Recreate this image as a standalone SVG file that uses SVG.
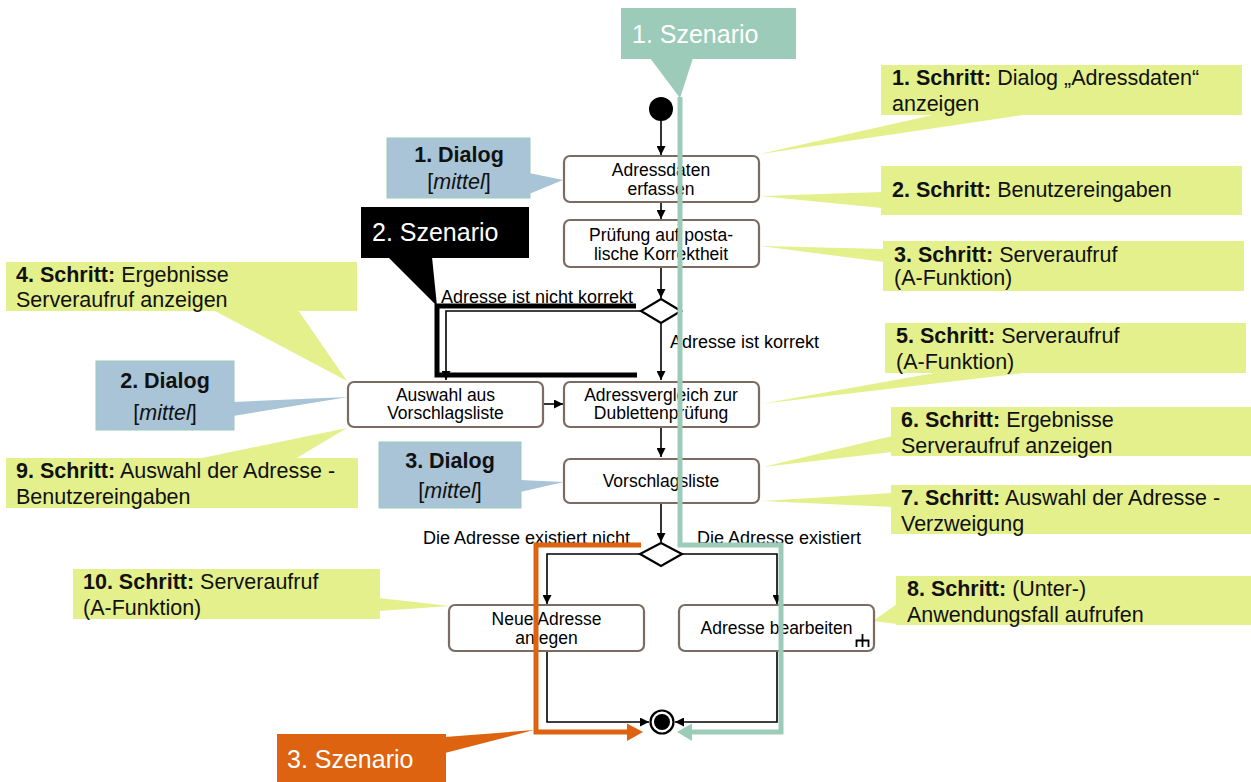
<svg xmlns="http://www.w3.org/2000/svg" width="1251" height="782" viewBox="0 0 1251 782">
<defs>
<style>
text{font-family:"Liberation Sans",Arial,sans-serif;}
.node rect{fill:#fff;stroke:#7b6b62;stroke-width:2.2;}
.nt{font-size:17.5px;fill:#000;text-anchor:middle;}
.lbl{font-size:18px;fill:#000;}
.edge{fill:none;stroke:#000;stroke-width:1.6;}
.co{fill:#e4f08c;}
.ct{font-size:21.5px;fill:#111;}
.b{font-weight:bold;}
.dlg{fill:#a8c4d6;stroke:#9ccab8;stroke-width:1;}
.dt{font-size:21.5px;fill:#111;text-anchor:middle;}
.sz{font-size:25px;fill:#fff;}
</style>
<marker id="ah" viewBox="0 0 10 10" refX="10" refY="5" markerWidth="9" markerHeight="9" markerUnits="userSpaceOnUse" orient="auto">
<path d="M0,0 L10,5 L0,10 z" fill="#000"/>
</marker>
</defs>
<rect width="1251" height="782" fill="#fff"/>

<!-- step callouts -->
<g id="callout-s1"><polygon class="co" points="937,114 1030,114 760,154"/><rect class="co" x="881" y="65" width="361" height="50"/><text class="ct" x="892" y="85"><tspan class="b">1. Schritt:</tspan> Dialog „Adressdaten“</text><text class="ct" x="892" y="111">anzeigen</text></g>
<g id="callout-s2"><polygon class="co" points="882,192 760,196 882,208"/><rect class="co" x="881" y="166" width="361" height="49"/><text class="ct" x="892" y="197"><tspan class="b">2. Schritt:</tspan> Benutzereingaben</text></g>
<g id="callout-s3"><polygon class="co" points="884,249 760,246 884,262"/><rect class="co" x="883" y="241" width="361" height="50"/><text class="ct" x="894" y="262"><tspan class="b">3. Schritt:</tspan> Serveraufruf</text><text class="ct" x="894" y="285">(A-Funktion)</text></g>
<g id="callout-s4"><polygon class="co" points="213,310 298,310 347,381"/><rect class="co" x="6" y="262" width="351" height="49"/><text class="ct" x="16" y="282"><tspan class="b">4. Schritt:</tspan> Ergebnisse</text><text class="ct" x="16" y="307">Serveraufruf anzeigen</text></g>
<g id="callout-s5"><polygon class="co" points="940,372 1033,372 760,404"/><rect class="co" x="885" y="323" width="361" height="50"/><text class="ct" x="896" y="343"><tspan class="b">5. Schritt:</tspan> Serveraufruf</text><text class="ct" x="896" y="369">(A-Funktion)</text></g>
<g id="callout-s6"><polygon class="co" points="892,436 763,467 892,452"/><rect class="co" x="891" y="407" width="360" height="49"/><text class="ct" x="901" y="427"><tspan class="b">6. Schritt:</tspan> Ergebnisse</text><text class="ct" x="901" y="453">Serveraufruf anzeigen</text></g>
<g id="callout-s7"><polygon class="co" points="892,493 760,501 892,507"/><rect class="co" x="891" y="485" width="360" height="49"/><text class="ct" x="901" y="505"><tspan class="b">7. Schritt:</tspan> Auswahl der Adresse -</text><text class="ct" x="901" y="531">Verzweigung</text></g>
<g id="callout-s8"><polygon class="co" points="897,604 873,621 897,624"/><rect class="co" x="896" y="576" width="355" height="49"/><text class="ct" x="907" y="596"><tspan class="b">8. Schritt:</tspan> (Unter-)</text><text class="ct" x="907" y="622">Anwendungsfall aufrufen</text></g>
<g id="callout-s9"><polygon class="co" points="197,459 295,459 347,428"/><rect class="co" x="6" y="458" width="352" height="50"/><text class="ct" x="16" y="478"><tspan class="b">9. Schritt:</tspan> Auswahl der Adresse -</text><text class="ct" x="16" y="504">Benutzereingaben</text></g>
<g id="callout-s10"><polygon class="co" points="379,598 450,606 379,611"/><rect class="co" x="73" y="569" width="307" height="50"/><text class="ct" x="83" y="589"><tspan class="b">10. Schritt:</tspan> Serveraufruf</text><text class="ct" x="83" y="615">(A-Funktion)</text></g>

<!-- dialog callouts -->
<g id="dialog-1"><rect class="dlg" x="387" y="138" width="143" height="60"/><polygon points="529,173 563,180 529,194" fill="#a8c4d6"/><text class="dt b" x="459" y="162">1. Dialog</text><text class="dt" x="459" y="189" font-size="20">[<tspan font-style="italic">mittel</tspan>]</text></g>
<g id="dialog-2"><rect class="dlg" x="96" y="361" width="138" height="69"/><polygon points="233,402 348,397 233,416" fill="#a8c4d6"/><text class="dt b" x="165" y="388">2. Dialog</text><text class="dt" x="165" y="420" font-size="20">[<tspan font-style="italic">mittel</tspan>]</text></g>
<g id="dialog-3"><rect class="dlg" x="379" y="442" width="142" height="66"/><polygon points="520,480 564,482 520,492" fill="#a8c4d6"/><text class="dt b" x="450" y="468">3. Dialog</text><text class="dt" x="450" y="498" font-size="20">[<tspan font-style="italic">mittel</tspan>]</text></g>

<!-- connectors -->
<g id="connectors">
<path class="edge" d="M661,121 V155" marker-end="url(#ah)"/>
<path class="edge" d="M661,202 V219" marker-end="url(#ah)"/>
<path class="edge" d="M661,267 V298" marker-end="url(#ah)"/>
<path class="edge" d="M641,311 H446 V380" marker-end="url(#ah)"/>
<path class="edge" d="M661,323 V380" marker-end="url(#ah)"/>
<path class="edge" d="M543,404 H563" marker-end="url(#ah)"/>
<path class="edge" d="M661,427 V457" marker-end="url(#ah)"/>
<path class="edge" d="M661,503 V542" marker-end="url(#ah)"/>
<path class="edge" d="M640,554 H547 V604" marker-end="url(#ah)"/>
<path class="edge" d="M682,554 H777 V604" marker-end="url(#ah)"/>
<path class="edge" d="M547,651 V722 H649" marker-end="url(#ah)"/>
<path class="edge" d="M777,651 V722 H675" marker-end="url(#ah)"/>
<text class="lbl" x="441" y="303">Adresse ist nicht korrekt</text>
<text class="lbl" x="670" y="348">Adresse ist korrekt</text>
<text class="lbl" x="423" y="544">Die Adresse existiert nicht</text>
<text class="lbl" x="697" y="544">Die Adresse existiert</text>
</g>

<!-- nodes -->
<g id="start"><circle cx="661" cy="109" r="12" fill="#000"/></g>
<g id="n-adressdaten" class="node"><rect x="564" y="156" width="195" height="46" rx="6"/><text class="nt" x="661" y="176">Adressdaten</text><text class="nt" x="661" y="195">erfassen</text></g>
<g id="n-pruefung" class="node"><rect x="564" y="220" width="195" height="47" rx="6"/><text class="nt" x="661" y="241">Prüfung auf posta-</text><text class="nt" x="661" y="260">lische Korrektheit</text></g>
<g id="d-korrekt"><polygon points="661,299 681,311 661,323 641,311" fill="#fff" stroke="#000" stroke-width="2.2"/></g>
<g id="n-auswahl" class="node"><rect x="348" y="382" width="195" height="45" rx="6"/><text class="nt" x="445.5" y="401">Auswahl aus</text><text class="nt" x="445.5" y="419">Vorschlagsliste</text></g>
<g id="n-adressvergleich" class="node"><rect x="564" y="382" width="195" height="45" rx="6"/><text class="nt" x="661" y="401">Adressvergleich zur</text><text class="nt" x="661" y="419">Dublettenprüfung</text></g>
<g id="n-vorschlagsliste" class="node"><rect x="564" y="459" width="195" height="44" rx="6"/><text class="nt" x="661" y="487">Vorschlagsliste</text></g>
<g id="d-existiert"><polygon points="661,543 682,554 661,566 640,554" fill="#fff" stroke="#000" stroke-width="2.2"/></g>
<g id="n-neue" class="node"><rect x="449" y="605" width="195" height="46" rx="6"/><text class="nt" x="546.5" y="625">Neue Adresse</text><text class="nt" x="546.5" y="644">anlegen</text></g>
<g id="n-bearbeiten" class="node"><rect x="679" y="605" width="195" height="46" rx="6"/><text class="nt" x="776.5" y="634">Adresse bearbeiten</text><path d="M862.5,634 V647 M856.5,647 V640.5 H868.5 V647" fill="none" stroke="#000" stroke-width="1.8"/></g>
<g id="end"><circle cx="662" cy="722" r="11.5" fill="#fff" stroke="#000" stroke-width="2.2"/><circle cx="662" cy="722" r="8" fill="#000"/></g>

<!-- scenario 2 (black) -->
<g id="scenario-2">
<path d="M636,306 H437 V375 H637" fill="none" stroke="#000" stroke-width="5"/>
<polygon points="388,257 432,257 437,306" fill="#000"/>
<rect x="361" y="207" width="168" height="51" fill="#000"/>
<text class="sz" x="372" y="241">2. Szenario</text>
</g>

<!-- scenario 1 (teal) -->
<g id="scenario-1">
<path d="M680,97 V545 H781 V732 H690" fill="none" stroke="#9dcbb9" stroke-width="5"/>
<polygon points="692,723.5 677,732 692,741" fill="#9dcbb9"/>
<polygon points="650,58 693,58 680,98" fill="#9dcbb9"/>
<rect x="621" y="8" width="175" height="51" fill="#9dcbb9"/>
<text class="sz" x="632" y="43">1. Szenario</text>
</g>

<!-- scenario 3 (orange) -->
<g id="scenario-3">
<path d="M641,545 H536 V732 H628" fill="none" stroke="#dd6310" stroke-width="5"/>
<polygon points="627,723.5 643,732 627,741" fill="#dd6310"/>
<polygon points="445,737 534,730 445,753" fill="#dd6310"/>
<rect x="277" y="734" width="169" height="48" fill="#dd6310"/>
<text class="sz" x="287" y="768">3. Szenario</text>
</g>
</svg>
